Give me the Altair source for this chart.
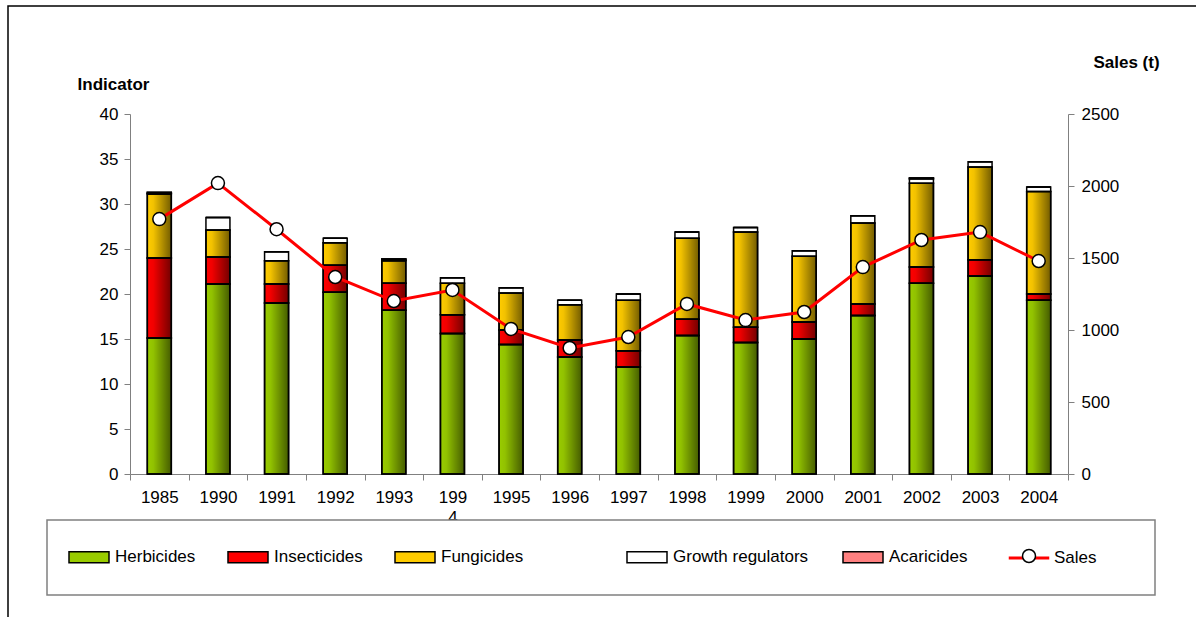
import altair as alt
import pandas as pd

years = ["1985", "1990", "1991", "1992", "1993", "1994", "1995", "1996",
         "1997", "1998", "1999", "2000", "2001", "2002", "2003", "2004"]
herbicides = [15.1, 21.1, 19.0, 20.2, 18.2, 15.6, 14.4, 13.0, 11.9, 15.4, 14.6, 15.0, 17.6, 21.2, 22.0, 19.3]
insecticides = [8.9, 3.0, 2.1, 3.0, 3.0, 2.1, 1.6, 1.9, 1.8, 1.8, 1.7, 1.9, 1.3, 1.8, 1.8, 0.7]
fungicides = [7.1, 3.0, 2.6, 2.5, 2.5, 3.5, 4.1, 3.9, 5.6, 9.0, 10.6, 7.3, 9.0, 9.3, 10.3, 11.4]
growth_regulators = [0.1, 1.4, 1.0, 0.5, 0.1, 0.6, 0.6, 0.5, 0.7, 0.7, 0.5, 0.6, 0.8, 0.5, 0.6, 0.5]
acaricides = [0.1, 0.0, 0.0, 0.0, 0.1, 0.0, 0.0, 0.0, 0.0, 0.0, 0.0, 0.0, 0.0, 0.1, 0.0, 0.0]
sales = [1770, 2020, 1700, 1368, 1201, 1278, 1007, 875, 951, 1181, 1069, 1125, 1437, 1625, 1680, 1479]

types = ["Herbicides", "Insecticides", "Fungicides", "Growth regulators", "Acaricides"]
type_colors = ["#99cc00", "#ff0000", "#ffcc00", "#ffffff", "#ff8080"]
series_values = [herbicides, insecticides, fungicides, growth_regulators, acaricides]

rows = []
for ti, (t, vals) in enumerate(zip(types, series_values)):
    for y, v in zip(years, vals):
        rows.append({"Year": y, "Type": t, "value": v, "ord": ti})
bars_df = pd.DataFrame(rows)
sales_df = pd.DataFrame({"Year": years, "Sales": sales, "S1": "Sales", "S2": "Sales "})

FONT = "Liberation Sans"
FS = 17
W, H = 938, 360

x_enc = alt.X("Year:N", sort=years, title=None,
              scale=alt.Scale(paddingInner=0, paddingOuter=0),
              axis=alt.Axis(labelAngle=0, tickBand="extent", tickSize=6, labelPadding=9,
                            domainColor="#808080", tickColor="#808080", labelColor="black",
                            labelFontSize=FS, zindex=0, labelLineHeight=20,
                            labelExpr="datum.label == '1994' ? ['199', '4'] : datum.label"))

left_axis = alt.Axis(values=list(range(0, 41, 5)), title="Indicator", titleAngle=0,
                     titleX=-17, titleY=-30, titleAlign="center", titleBaseline="middle",
                     titleFontWeight="bold", titleFontSize=FS, tickSize=6, labelPadding=6,
                     domainColor="#808080", tickColor="#808080", labelColor="black",
                     labelFontSize=FS, grid=False)
y_enc = alt.Y("v0:Q", scale=alt.Scale(domain=[0, 40], nice=False), axis=left_axis)

base = alt.Chart(bars_df).transform_stack(
    stack="value", groupby=["Year"], as_=["v0", "v1"], sort=[alt.SortField("ord")]
)

RECT_SYM = "M-1,-0.275H1V0.275H-1Z"


def bar_legend(x, pad):
    return alt.Legend(orient="none", legendX=x, legendY=422, direction="horizontal",
                      columnPadding=pad, title=None, padding=0,
                      symbolType=RECT_SYM, symbolSize=1600,
                      symbolStrokeColor="black", symbolStrokeWidth=1.5,
                      labelFontSize=FS, labelOffset=5, labelColor="black", labelLimit=400)


group_a = types[:3]
group_b = types[3:]

bars_a = base.transform_filter(alt.FieldOneOfPredicate(field="Type", oneOf=group_a)).mark_bar(
    size=24, stroke="black", strokeWidth=1.5
).encode(
    x=x_enc, y=y_enc, y2="v1:Q",
    fill=alt.Fill("Type:N", scale=alt.Scale(domain=group_a, range=type_colors[:3]),
                  legend=bar_legend(-62, 29)),
)
bars_b = base.transform_filter(alt.FieldOneOfPredicate(field="Type", oneOf=group_b)).mark_bar(
    size=24, stroke="black", strokeWidth=1.5
).encode(
    x=x_enc, y=y_enc, y2="v1:Q",
    fill=alt.Fill("Type:N", scale=alt.Scale(domain=group_b, range=type_colors[3:]),
                  legend=bar_legend(496, 31)),
)

gradient = {
    "gradient": "linear", "x1": 0, "y1": 0, "x2": 1, "y2": 0,
    "stops": [
        {"offset": 0, "color": "rgba(0,0,0,0.0)"},
        {"offset": 0.25, "color": "rgba(0,0,0,0.05)"},
        {"offset": 1, "color": "rgba(0,0,0,0.55)"},
    ],
}

shade = base.transform_filter(alt.datum.Type != "Growth regulators").mark_bar(
    size=24, fill=gradient, stroke="black", strokeWidth=1.5
).encode(x=x_enc, y=y_enc, y2="v1:Q")

one = pd.DataFrame({"a": [0]})
legend_box = alt.Chart(one).mark_rect(fill="white", stroke="#808080", strokeWidth=1.5).encode(
    x=alt.value(-83), x2=alt.value(1025), y=alt.value(406), y2=alt.value(481)
)
frame = alt.Chart(one).mark_rect(fill=None, stroke="black", strokeWidth=1.5).encode(
    x=alt.value(-122), x2=alt.value(1090), y=alt.value(-108), y2=alt.value(520)
)

right_axis = alt.Axis(orient="right", values=list(range(0, 2501, 500)), format="d",
                      title="Sales (t)",
                      titleAngle=0, titleX=58, titleY=-52, titleAlign="center",
                      titleBaseline="middle", titleFontWeight="bold", titleFontSize=FS,
                      tickSize=6, labelPadding=7, domainColor="#808080", tickColor="#808080",
                      labelColor="black", labelFontSize=FS, grid=False)
y_sales = alt.Y("Sales:Q", scale=alt.Scale(domain=[0, 2500], nice=False), axis=right_axis)

line = alt.Chart(sales_df).mark_line(strokeWidth=3).encode(
    x=alt.X("Year:N", sort=years),
    y=y_sales,
    stroke=alt.Stroke("S1:N", scale=alt.Scale(domain=["Sales"], range=["#ff0000"]),
                      legend=alt.Legend(orient="none", legendX=877, legendY=422, title=None,
                                        padding=0, symbolType="stroke", symbolSize=1640,
                                        symbolStrokeWidth=3, labelFontSize=FS, labelOffset=3,
                                        labelColor="black")),
)
points = alt.Chart(sales_df).mark_point(filled=True, stroke="black",
                                        strokeWidth=1.5, size=169, opacity=1,
                                        shape="circle").encode(
    x=alt.X("Year:N", sort=years),
    y=y_sales,
    fill=alt.Fill("S2:N", scale=alt.Scale(domain=["Sales "], range=["white"]),
                  legend=alt.Legend(orient="none", legendX=890.5, legendY=433.5, title=None,
                                    padding=0, symbolType="circle", symbolSize=169,
                                    symbolStrokeColor="black", symbolStrokeWidth=1.5,
                                    symbolOpacity=1, labelFontSize=FS, labelExpr="''")),
)

left_layer = alt.layer(frame, legend_box, bars_a, bars_b, shade).resolve_scale(fill="independent")
right_layer = alt.layer(line, points)

chart = alt.layer(left_layer, right_layer).resolve_scale(
    y="independent", fill="independent", stroke="independent"
).properties(
    width=W, height=H,
    autosize=alt.AutoSizeParams(type="none"),
    padding={"left": 130, "top": 114, "right": 128, "bottom": 143},
).configure(
    font=FONT,
).configure_view(stroke=None)

chart.save("out.html", embed_options={"renderer": "svg", "actions": False})
